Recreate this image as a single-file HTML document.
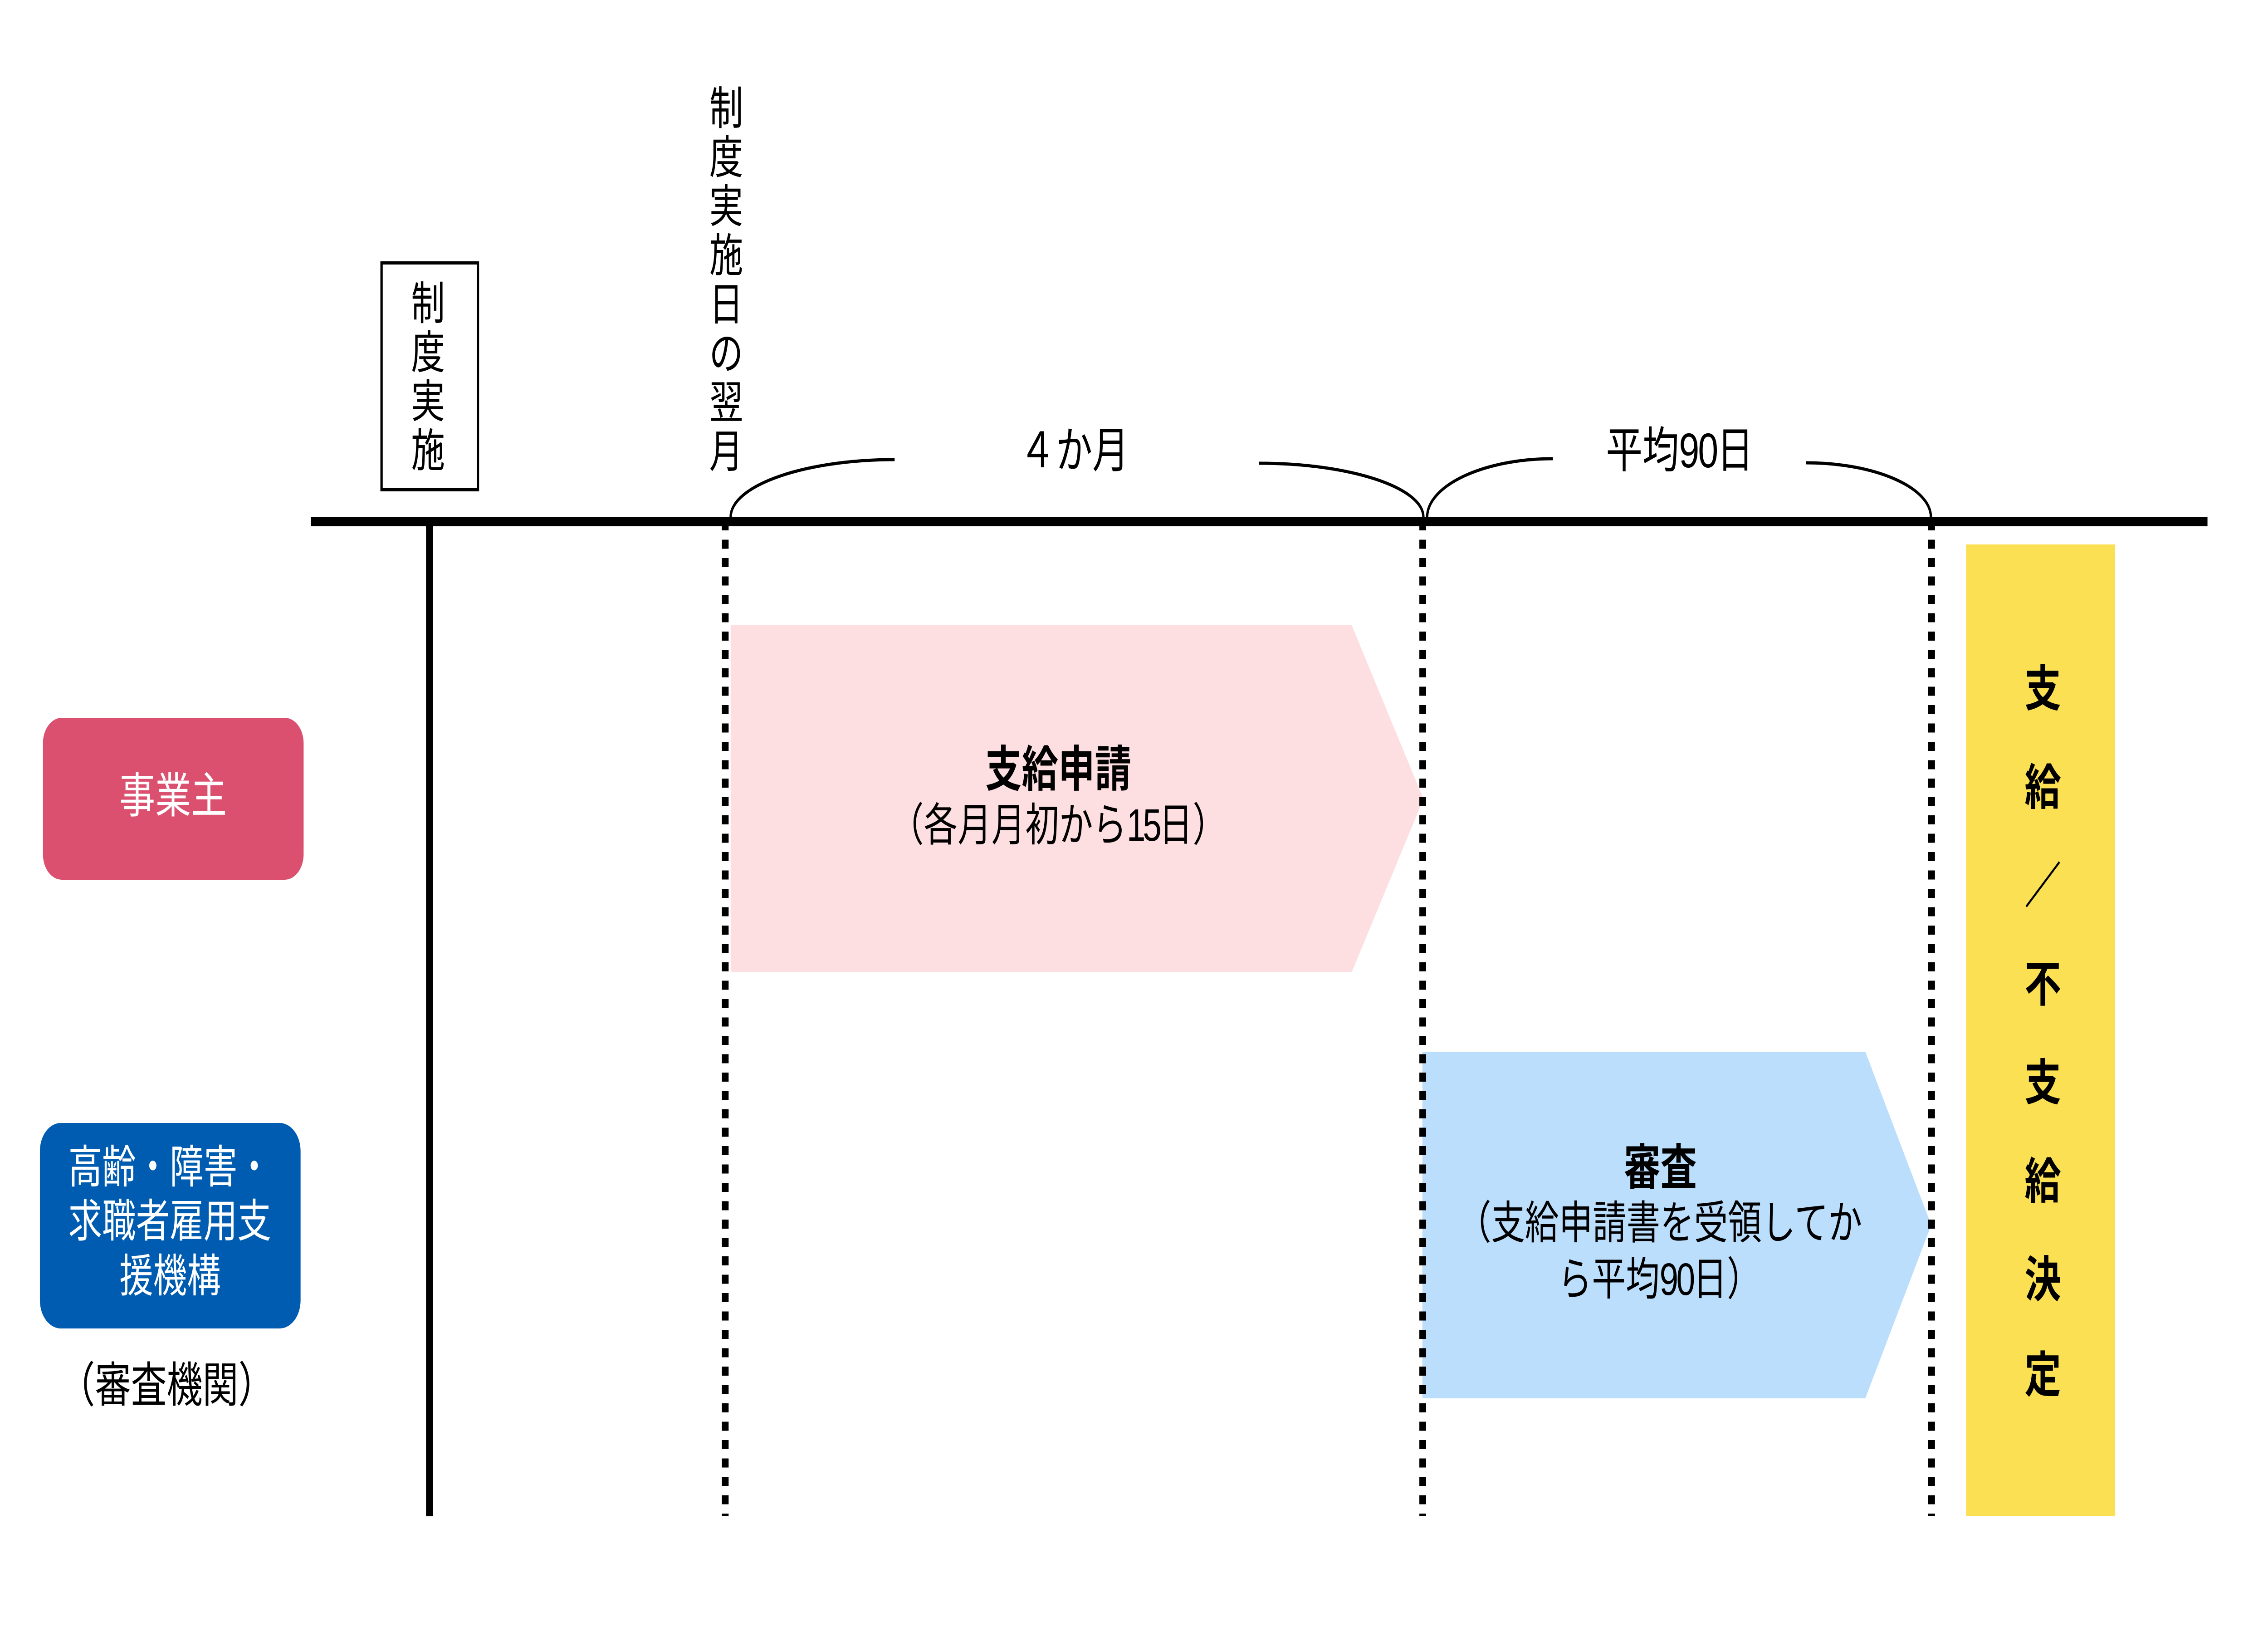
<!DOCTYPE html>
<html lang="ja"><head><meta charset="utf-8"><title>支給スケジュール</title>
<style>html,body{margin:0;padding:0;background:#fff;width:100%;height:100%}svg{display:block;width:100vw;height:100vh}
text{font-family:"Liberation Sans","Noto Sans CJK JP",sans-serif}</style></head><body>
<svg xmlns="http://www.w3.org/2000/svg" viewBox="0 0 6708 3597" preserveAspectRatio="none">
<rect width="6708" height="3597" fill="#fff"/>
<polygon points="2161,1378 3998,1378 4210,1761 3998,2143 2161,2143" fill="#FDDFE2"/>
<polygon points="4207,2318 5517,2318 5712,2700 5517,3082 4207,3082" fill="#BBDEFD"/>
<rect x="5815" y="1200" width="441" height="2141" fill="#FAE052"/>
<rect x="127" y="1582" width="771" height="357" rx="56" fill="#DB4F6F"/>
<rect x="118" y="2475" width="771" height="453" rx="62" fill="#005CB0"/>
<rect x="1128.5" y="579.5" width="285" height="500" fill="none" stroke="#000" stroke-width="7"/>
<g fill="none" stroke="#000" stroke-width="7">
<path d="M2161 1140C2161 1070 2379 1013 2646 1013"/>
<path d="M3724 1021C3991 1021 4210 1074 4210 1140"/>
<path d="M4221 1140C4221 1070 4388 1011 4593 1011"/>
<path d="M5341 1020C5545 1020 5711 1074 5711 1140"/>
</g>
<rect x="1260" y="1150" width="20" height="2192" fill="#000"/>
<g stroke="#000" stroke-width="20" stroke-dasharray="20 20.5" fill="none">
<line x1="2145" y1="1149" x2="2145" y2="3341"/>
<line x1="4208" y1="1149" x2="4208" y2="3341"/>
<line x1="5713" y1="1149" x2="5713" y2="3341"/>
</g>
<rect x="919" y="1140" width="5610" height="20" fill="#000"/>
<g font-size="100" fill="#000">
<text text-anchor="middle" x="1266 1266 1266 1266" y="704 812 920 1028">制度実施</text>
<text text-anchor="middle" x="2148 2148 2148 2148 2148 2148 2148 2148" y="274 382 490 598 706 814 922 1030">制度実施日の翌月</text>
<text x="3015" y="1030" font-size="108">４か月</text>
<text x="4750" y="1030" font-size="108">平均<tspan letter-spacing="-4">90</tspan>日</text>
<text x="3130" y="1853" text-anchor="middle">（各月月初から<tspan letter-spacing="-8">15</tspan>日）</text>
<text x="4909" y="2730" text-anchor="middle">（支給申請書を受領してか</text>
<text x="4908" y="2854" text-anchor="middle">ら平均<tspan letter-spacing="-6">90</tspan>日）</text>
<text x="493" y="3090" text-anchor="middle" font-size="106">（審査機関）</text>
</g>
<g font-size="108" font-weight="700" fill="#000">
<text x="3130" y="1733" text-anchor="middle">支給申請</text>
<text x="4911" y="2611" text-anchor="middle">審査</text>
</g>
<text font-size="108" font-weight="700" fill="#000" text-anchor="middle" x="6042 6042 6042 6042 6042 6042 6042 6042" y="1556 1773 1990 2207 2424 2641 2858 3068">支給／不支給決定</text>
<text x="512" y="1791" font-size="106" fill="#fff" text-anchor="middle">事業主</text>
<g font-size="100" fill="#fff" text-anchor="middle">
<text x="502" y="2607">高齢・障害・</text>
<text x="502" y="2726">求職者雇用支</text>
<text x="503" y="2847">援機構</text>
</g>
</svg></body></html>
